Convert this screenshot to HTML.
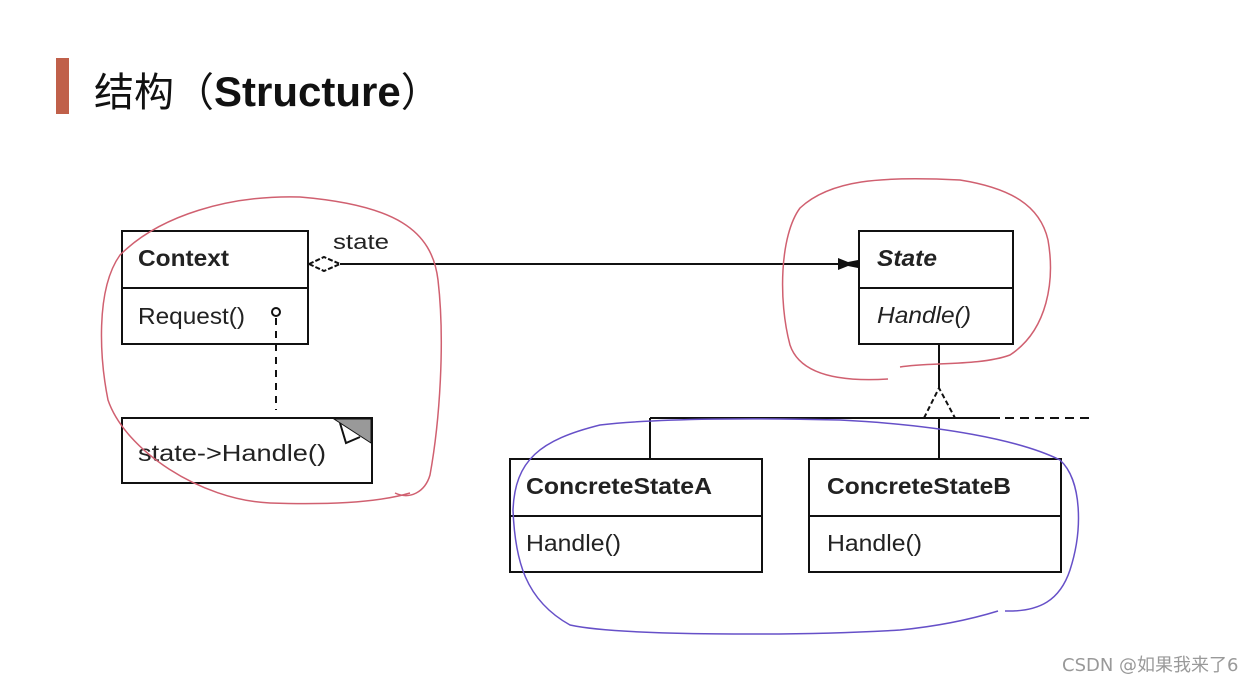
<!DOCTYPE html>
<html><head><meta charset="utf-8"><style>
html,body{margin:0;padding:0;background:#fff;width:1260px;height:682px;overflow:hidden}
svg{display:block}
</style></head><body>
<svg width="1260" height="682" viewBox="0 0 1260 682" xmlns="http://www.w3.org/2000/svg" font-family="'Liberation Sans','Noto Sans CJK SC',sans-serif">
<rect x="56" y="58" width="13" height="56" fill="#c0604a"/>
<text x="94" y="106" font-size="40" fill="#111">结构（<tspan font-weight="bold" font-size="42">Structure</tspan>）</text>

<g stroke="#111" stroke-width="2" fill="none">
<rect x="122" y="231" width="186" height="113"/>
<line x1="122" y1="288" x2="308" y2="288"/>
<rect x="122" y="418" width="250" height="65"/>
<rect x="859" y="231" width="154" height="113"/>
<line x1="859" y1="288" x2="1013" y2="288"/>
<rect x="510" y="459" width="252" height="113"/>
<line x1="510" y1="516" x2="762" y2="516"/>
<rect x="809" y="459" width="252" height="113"/>
<line x1="809" y1="516" x2="1061" y2="516"/>
<line x1="340" y1="264" x2="842" y2="264"/>
<line x1="939" y1="344" x2="939" y2="388"/>
<line x1="650" y1="418" x2="1000" y2="418"/>
<line x1="650" y1="418" x2="650" y2="459"/>
<line x1="939" y1="418" x2="939" y2="459"/>
<line x1="1005" y1="418" x2="1092" y2="418" stroke-dasharray="9,6"/>
<polyline points="924,418 939,388 955,418" stroke-dasharray="5,3"/>
<polygon points="309,264 324,257 340,264 324,271" stroke-dasharray="5,2"/>
<line x1="276" y1="318" x2="276" y2="410" stroke-dasharray="7,6"/>
<circle cx="276" cy="312" r="4"/>
<polyline points="340,423 346,443 360,437"/>
</g>
<polygon points="838,258 848,262 858,260 858,268 848,266 838,270" fill="#111"/>
<polygon points="334,419 371,419 371,443" fill="#999" stroke="#111" stroke-width="1"/>

<g font-size="23" fill="#222">
<text x="138" y="266" font-weight="bold" textLength="91" lengthAdjust="spacingAndGlyphs">Context</text>
<text x="138" y="324" textLength="107" lengthAdjust="spacingAndGlyphs">Request()</text>
<text x="333" y="249" font-size="21" textLength="56" lengthAdjust="spacingAndGlyphs">state</text>
<text x="138" y="461" textLength="188" lengthAdjust="spacingAndGlyphs">state-&gt;Handle()</text>
<text x="877" y="266" font-weight="bold" font-style="italic" textLength="60" lengthAdjust="spacingAndGlyphs">State</text>
<text x="877" y="323" font-style="italic" textLength="94" lengthAdjust="spacingAndGlyphs">Handle()</text>
<text x="526" y="494" font-weight="bold" textLength="186" lengthAdjust="spacingAndGlyphs">ConcreteStateA</text>
<text x="526" y="551" textLength="95" lengthAdjust="spacingAndGlyphs">Handle()</text>
<text x="827" y="494" font-weight="bold" textLength="184" lengthAdjust="spacingAndGlyphs">ConcreteStateB</text>
<text x="827" y="551" textLength="95" lengthAdjust="spacingAndGlyphs">Handle()</text>
</g>

<g fill="none" stroke-width="1.5">
<path d="M395,493 C410,500 425,492 430,475 C440,420 445,340 438,280 C432,230 395,205 300,197 C230,195 160,215 120,255 C95,290 100,360 108,400 C125,450 200,500 270,503 C330,505 380,502 410,493" stroke="#d06070"/>
<path d="M888,379 C840,382 800,375 790,345 C778,300 780,235 800,208 C830,180 880,176 960,180 C1010,188 1040,205 1048,240 C1055,280 1048,330 1010,355 C980,366 930,362 900,367" stroke="#d06070"/>
<path d="M1005,611 C1040,612 1060,600 1070,570 C1083,530 1082,480 1060,460 C1020,440 940,425 840,420 C760,418 660,418 600,425 C540,440 515,460 513,510 C515,560 525,600 570,625 C620,636 800,636 900,630 C950,625 985,615 998,611" stroke="#6650c8"/>
</g>

<text x="1062" y="671" font-size="18" fill="#999" font-family="'DejaVu Sans','Noto Sans CJK SC',sans-serif">CSDN @如果我来了6</text>
</svg>
</body></html>
